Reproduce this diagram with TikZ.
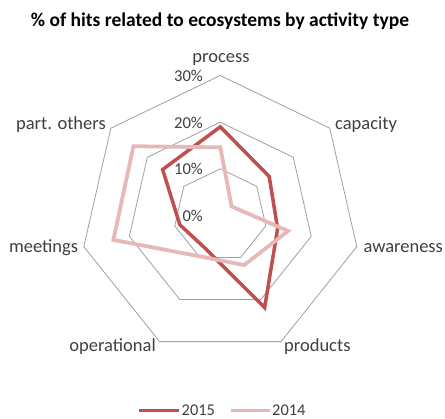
\documentclass[tikz,border=0pt]{standalone}
\usepackage{fontspec}
\setmainfont{Carlito}
\definecolor{c15}{RGB}{192,80,77}
\definecolor{c14}{RGB}{230,185,184}
\definecolor{gridgray}{RGB}{160,160,160}
\definecolor{txt}{RGB}{64,64,64}
\begin{document}
\begin{tikzpicture}[x=1pt,y=1pt,
  ring/.style={draw=gridgray, line width=0.8pt},
  ser15/.style={draw=c15, line width=3.5pt, line join=miter},
  ser14/.style={draw=c14, line width=3.8pt, line join=miter},
  cat/.style={inner sep=0pt, font=\fontsize{18.5}{20}\selectfont, text=txt},
  ticklab/.style={inner sep=0pt, anchor=base east, font=\fontsize{16.6}{18}\selectfont, text=txt},
  leg/.style={inner sep=0pt, anchor=west, font=\fontsize{16.4}{18}\selectfont, text=txt},
  legline15/.style={draw=c15, line width=3.5pt},
  legline14/.style={draw=c14, line width=3.8pt}]
\useasboundingbox (0,0) rectangle (445,419);
\fill[white] (0,0) rectangle (445,419);
\coordinate (C) at (220.3,203.5);
\begin{scope}[shift={(C)}]
  \foreach \r in {46.67,93.33,140}{
    \draw[ring] (90:\r) \foreach \k in {1,...,6}{ -- ({90-\k*360/7}:\r)} -- cycle;
  }
  \foreach \v [count=\i from 0] in {19.0,13.4,12.6,21.9,7.7,8.9,15.8}{
    \coordinate (b\i) at ({90-\i*360/7}:{\v*4.667});
  }
  \foreach \v [count=\i from 0] in {14.6,3.1,14.9,11.8,9.75,23.5,23.8}{
    \coordinate (a\i) at ({90-\i*360/7}:{\v*4.667});
  }
\end{scope}
\draw[ser15] (b0) -- (b1) -- (b2) -- (b3) -- (b4) -- (b5) -- (b6) -- cycle;
\draw[ser14] (a0) -- (a1) -- (a2) -- (a3) -- (a4) -- (a5) -- (a6) -- cycle;
% title
\node[inner sep=0pt, anchor=base, font=\fontsize{19.5}{21}\selectfont\bfseries] (title) at (220,392.3) {\% of hits related to ecosystems by activity type};
% category labels
\node[cat, anchor=base] (lprocess) at (221,356.3) {process};
\node[cat, anchor=base west] (lcapacity) at (335,289.7) {capacity};
\node[cat, anchor=base east] (lothers) at (106,289.7) {part. others};
\node[cat, anchor=base west] (lawareness) at (363.3,166.3) {awareness};
\node[cat, anchor=base east] (lmeetings) at (78.3,166.3) {meetings};
\node[cat, anchor=base west] (lproducts) at (284,67.3) {products};
\node[cat, anchor=base east] (loperational) at (156,67.3) {operational};
% tick labels
\node[ticklab] (t30) at (203,337.3) {30\%};
\node[ticklab] (t20) at (203,290.7) {20\%};
\node[ticklab] (t10) at (203,244) {10\%};
\node[ticklab] (t0) at (203,197.3) {0\%};
% legend
\coordinate (l15a) at (139,8.5);
\coordinate (l15b) at (179,8.5);
\coordinate (l14a) at (231,8.5);
\coordinate (l14b) at (270,8.5);
\draw[legline15] (l15a) -- (l15b);
\draw[legline14] (l14a) -- (l14b);
\node[leg] (leg15) at (181.5,8.5) {2015};
\node[leg] (leg14) at (272,8.5) {2014};
\end{tikzpicture}
\end{document}
